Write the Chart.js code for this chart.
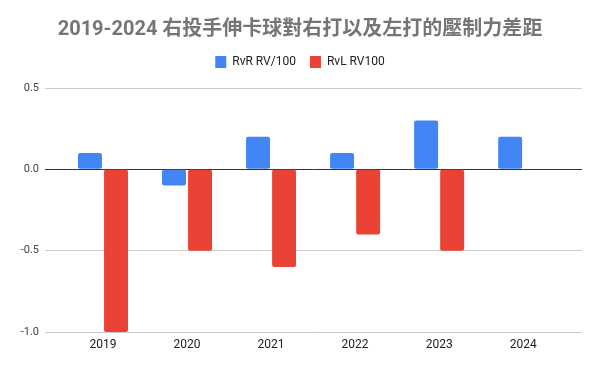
<!DOCTYPE html>
<html>
<head>
<meta charset="utf-8">
<script src="https://cdn.jsdelivr.net/npm/chart.js@4/dist/chart.umd.min.js"></script>
<style>
  html, body { margin: 0; padding: 0; background: #fff; }
  #wrap { width: 600px; height: 371px; }
</style>
</head>
<body>
<div id="wrap"><canvas id="mycanvas"></canvas></div>
<script>
// values
var years = [2019, 2020, 2021, 2022, 2023, 2024];
var rvr = [0.1, -0.1, 0.2, 0.1, 0.3, 0.2];
var rvl = [-1.0, -0.5, -0.6, -0.4, -0.5, null];
var yTicks = [0.5, 0.0, -0.5, -1.0];

var FONT = "Roboto, 'Noto Sans CJK TC', sans-serif";

function pts(vals) {
    var out = [];
    for (var i in years) {
        out.push({ x: years[i], y: vals[i] });
    }
    return out;
}

// push the plot a bit further below the legend
var legendGap = {
    id: "legendGap",
    beforeLayout: function (chart) {
        var lg = chart.legend;
        if (lg && !lg._gapDone) {
            var fit = lg.fit;
            lg.fit = function () {
                fit.call(this);
                this.height += 10;
            };
            lg._gapDone = true;
        }
    }
};

var chartdata = {
    datasets: [
        {
            label: "RvR RV/100",
            data: pts(rvr),
            backgroundColor: "#4285f4",
            borderRadius: 2,
            borderSkipped: false,
            categoryPercentage: 0.62,
            barPercentage: 0.92
        },
        {
            label: "RvL RV100",
            data: pts(rvl),
            backgroundColor: "#ea4335",
            borderRadius: 2,
            borderSkipped: false,
            categoryPercentage: 0.62,
            barPercentage: 0.92
        }
    ]
};

var ctx = document.getElementById("mycanvas");
var chart = new Chart(ctx, {
    type: "bar",
    data: chartdata,
    plugins: [legendGap],
    options: {
        responsive: true,
        maintainAspectRatio: false,
        animation: false,
        layout: { padding: { left: 18, right: 18, top: 18, bottom: 14 } },
        plugins: {
            title: {
                display: true,
                text: "2019-2024 右投手伸卡球對右打以及左打的壓制力差距",
                color: "#757575",
                font: { family: FONT, size: 20, weight: "bold" },
                padding: { top: 0, bottom: 0 }
            },
            legend: {
                labels: {
                    boxWidth: 11,
                    boxHeight: 12,
                    color: "#222",
                    padding: 14,
                    font: { family: FONT, size: 12 }
                }
            },
            tooltip: { enabled: false }
        },
        scales: {
            x: {
                type: "linear",
                min: 2018.31,
                max: 2024.70,
                offset: false,
                afterBuildTicks: function (scale) {
                    scale.ticks = years.map(function (v) { return { value: v }; });
                },
                afterFit: function (scale) { scale.height = 25; },
                ticks: {
                    color: "#222",
                    font: { family: FONT, size: 12 },
                    maxRotation: 0,
                    padding: 6,
                    callback: function (v) { return String(v); }
                },
                grid: { display: false, drawTicks: false },
                border: { display: false }
            },
            y: {
                min: -1.0,
                max: 0.5,
                afterBuildTicks: function (scale) {
                    scale.ticks = yTicks.map(function (v) { return { value: v }; });
                },
                afterFit: function (scale) { scale.width = 27; },
                ticks: {
                    color: "#444",
                    font: { family: FONT, size: 11 },
                    padding: 6,
                    callback: function (v) { return v.toFixed(1); }
                },
                grid: {
                    drawTicks: false,
                    color: function (c) { return c.tick && c.tick.value === 0 ? "#333" : "#cccccc"; },
                    lineWidth: 1
                },
                border: { display: false }
            }
        }
    }
});
</script>
</body>
</html>
